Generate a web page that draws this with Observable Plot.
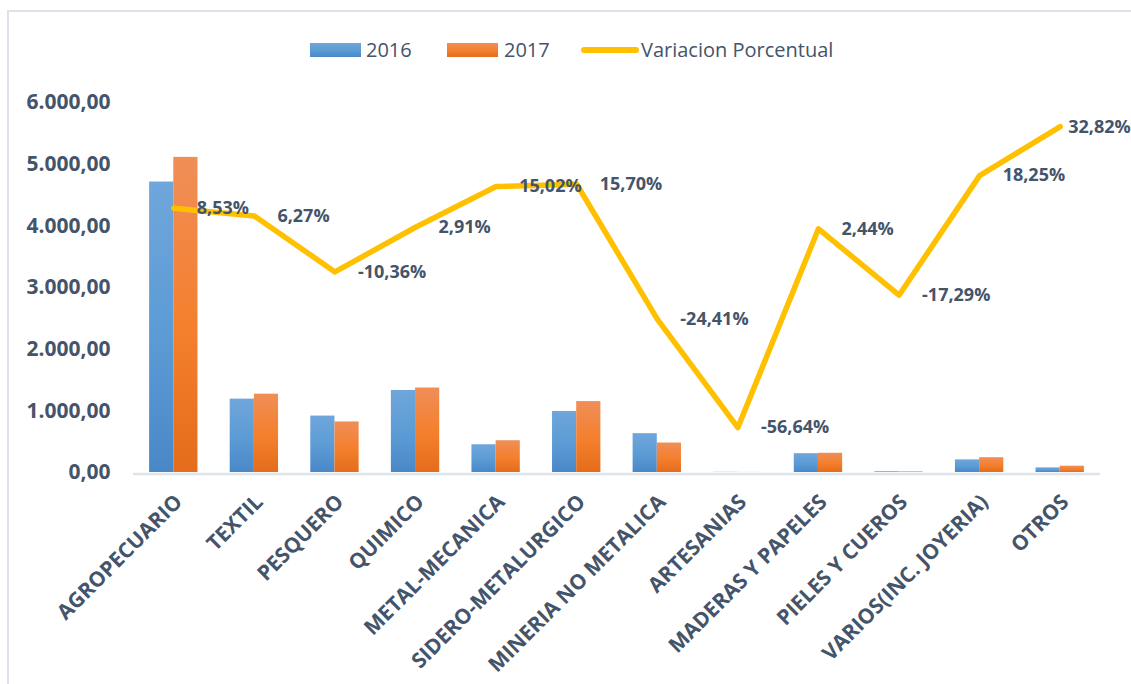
<!DOCTYPE html>
<html><head><meta charset="utf-8">
<script src="https://cdn.jsdelivr.net/npm/d3@7"></script>
<script src="https://cdn.jsdelivr.net/npm/@observablehq/plot@0.6"></script>
<style>
body{margin:0;background:#fff;font-family:"Open Sans",sans-serif;overflow:hidden}
#frame{position:absolute;left:7px;top:10px;width:1300px;height:900px;border-left:2px solid #DDE3EA;border-top:2px solid #DDE3EA;pointer-events:none}
#legend{position:relative;width:1131px;height:70px;color:#44546A;font-size:20px}
#legend .sw{position:absolute;top:43px;height:14px;width:51px}
#legend .ln{position:absolute;top:47px;height:6px;width:58px;border-radius:3px;background:#FFC000}
#legend .tx{position:absolute;top:36px;line-height:28px;white-space:nowrap}
#chart svg{display:block}
</style></head>
<body>
<div id="legend">
  <div class="sw" style="left:310px;background:linear-gradient(#6FA6DB,#5B9BD5 55%,#4A87C7)"></div>
  <div class="tx" style="left:366px">2016</div>
  <div class="sw" style="left:447px;background:linear-gradient(#F08E58,#F47F2C 55%,#E46C1C)"></div>
  <div class="tx" style="left:504px">2017</div>
  <div class="ln" style="left:581px"></div>
  <div class="tx" style="left:641px">Variacion Porcentual</div>
</div>
<div id="chart"></div>
<div id="frame"></div>
<script>
const categories = ["AGROPECUARIO","TEXTIL","PESQUERO","QUIMICO","METAL-MECANICA","SIDERO-METALURGICO","MINERIA NO METALICA","ARTESANIAS","MADERAS Y PAPELES","PIELES Y CUEROS","VARIOS(INC. JOYERIA)","OTROS"];
const values2016 = [4710, 1190, 915, 1330, 450, 990, 630, 3, 305, 12, 205, 75];
const values2017 = [5110, 1270, 820, 1370, 515, 1150, 478, 1, 312, 10, 240, 102];
const variacion = [8.53, 6.27, -10.36, 2.91, 15.02, 15.70, -24.41, -56.64, 2.44, -17.29, 18.25, 32.82];
const yTicks = [0, 1000, 2000, 3000, 4000, 5000, 6000];

const rows = categories.map((c, i) => ({cat: c, v16: values2016[i], v17: values2017[i], pct: variacion[i], last: i === categories.length - 1}));
// secondary (hidden) axis for the percentage line
const pctScale = d3.scaleLinear([-70, 40], [0, 6000]);
const locale = d3.formatLocale({decimal: ",", thousands: ".", grouping: [3], currency: ["", ""], minus: "-"});
const fmtY = locale.format(",.2f");
const fmtPct = d => locale.format(".2f")(d) + "%";

const W = 1131, H = 614, ML = 133, MR = 31, MT = 32, MB = 212;
const step = (W - ML - MR) / (categories.length - 0.4 + 0.4);
const half = step * 0.6 / 2;

function gradients() {
  const defs = d3.create("svg:defs");
  const mk = (id, stops) => {
    const g = defs.append("linearGradient").attr("id", id).attr("x1", 0).attr("y1", 0).attr("x2", 0).attr("y2", 1);
    stops.forEach(([o, c]) => g.append("stop").attr("offset", o).attr("stop-color", c));
  };
  mk("g2016", [[0, "#6FA6DB"], [0.55, "#5B9BD5"], [1, "#4A87C7"]]);
  mk("g2017", [[0, "#F08E58"], [0.55, "#F47F2C"], [1, "#E46C1C"]]);
  return defs.node();
}

const chart = Plot.plot({
  width: W, height: H, marginTop: MT, marginBottom: MB, marginLeft: ML, marginRight: MR,
  style: {fontFamily: "'Open Sans', sans-serif", color: "#44546A", background: "transparent", overflow: "visible"},
  x: {domain: categories, paddingInner: 0.4, paddingOuter: 0.2, round: false, axis: null, label: null},
  y: {domain: [0, 6000], axis: null, label: null},
  marks: [
    gradients,
    Plot.barY(rows, {x: "cat", y: "v16", fill: "url(#g2016)", insetRight: half}),
    Plot.barY(rows, {x: "cat", y: "v17", fill: "url(#g2017)", insetLeft: half}),
    Plot.ruleY([0], {stroke: "#DDE3EA", strokeWidth: 2.5, dy: 1.5}),
    Plot.axisY({ticks: yTicks, tickFormat: fmtY, tickSize: 0, tickPadding: 23, fontSize: 21, fontWeight: "bold", fill: "#44546A", label: null}),
    Plot.axisX({tickSize: 0, tickPadding: 26, tickRotate: -45, fontSize: 21, fontWeight: "bold", fill: "#44546A", dx: 5, label: null}),
    Plot.lineY(rows, {x: "cat", y: d => pctScale(d.pct), stroke: "#FFC000", strokeWidth: 5.5, strokeLinejoin: "round", strokeLinecap: "round"}),
    Plot.text(rows.filter(d => !d.last), {x: "cat", y: d => pctScale(d.pct), text: d => fmtPct(d.pct), dx: 23, textAnchor: "start", fontSize: 18, fontWeight: "bold", fill: "#44546A"}),
    Plot.text(rows.filter(d => d.last), {x: "cat", y: d => pctScale(d.pct), text: d => fmtPct(d.pct), dx: 8, dy: 1, textAnchor: "start", fontSize: 18, fontWeight: "bold", fill: "#44546A"})
  ]
});
document.getElementById("chart").appendChild(chart);
</script>
</body></html>
